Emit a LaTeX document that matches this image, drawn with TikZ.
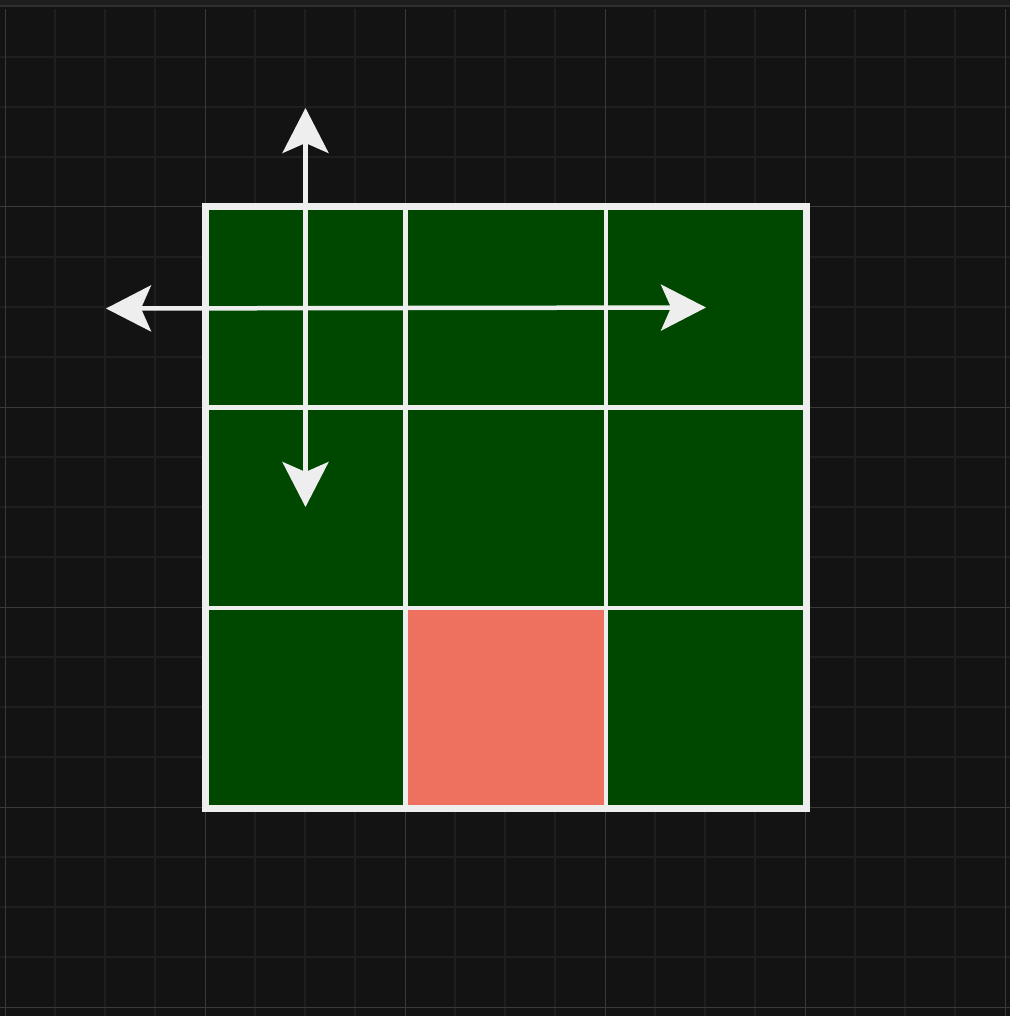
\documentclass[tikz,border=0pt]{standalone}
\usetikzlibrary{arrows.meta}
\definecolor{bg}{HTML}{131313}
\definecolor{bar}{HTML}{1E1E1E}
\definecolor{barline}{HTML}{2E2E2E}
\definecolor{minorgrid}{HTML}{1F1F1F}
\definecolor{majorgrid}{HTML}{3A3A3A}
\definecolor{cellgreen}{HTML}{004800}
\definecolor{cellred}{HTML}{EE715F}
\definecolor{linewhite}{HTML}{EEEEEE}
\tikzset{
  minorline/.style={draw=minorgrid, line width=1.4pt},
  majorline/.style={draw=majorgrid, line width=1pt},
  cellbox/.style={draw=none, fill=cellgreen, minimum size=200pt, inner sep=0pt, outer sep=0pt},
  hotbox/.style={cellbox, fill=cellred},
  gridsep/.style={draw=linewhite, line width=4.5pt},
  frame/.style={draw=linewhite, line width=7pt},
  dirarrow/.style={draw=linewhite, line width=4.5pt,
    {Stealth[length=45pt, width=46pt, inset=10pt]}-{Stealth[length=45pt, width=46pt, inset=10pt]}}
}
\begin{document}
\begin{tikzpicture}[x=1pt, y=-1pt]
\useasboundingbox (0,0) rectangle (1010,1016);
\fill[bg] (0,0) rectangle (1010,1016);
% minor grid
\foreach \x in {55,105,155,255,305,355,455,505,555,655,705,755,855,905,955}
  \draw[minorline] (\x,9) -- (\x,1016);
\foreach \y in {57,107,157,257,307,357,457,507,557,657,707,757,857,907,957}
  \draw[minorline] (0,\y) -- (1010,\y);
% major grid
\foreach \x in {5,205,405,605,805,1005}
  \draw[majorline] (\x,9) -- (\x,1016);
\foreach \y in {207,407,607,807,1007}
  \draw[majorline] (0,\y) -- (1010,\y);
% top bar
\fill[bar] (0,0) rectangle (1010,6);
\draw[barline, line width=1.5pt] (0,6) -- (1010,6);
% cells
\foreach \r in {0,1,2}
  \foreach \c in {0,1,2}
    \node[cellbox, anchor=north west] (c\r\c) at (205+200.5*\c, 207+200.5*\r) {};
\node[hotbox, anchor=north west] (hot) at (405.5,608) {};
% separators
\draw[gridsep] (405.5,207) -- (405.5,808.5);
\draw[gridsep] (606,207) -- (606,808.5);
\draw[gridsep] (205,407.5) -- (806.5,407.5);
\draw[gridsep] (205,608) -- (806.5,608);
\draw[frame] (205,207) rectangle (806.5,808.5);
% arrows
\coordinate (up) at (305.5,108);
\coordinate (down) at (305.5,507);
\coordinate (left) at (106,308.5);
\coordinate (right) at (706,307.5);
\draw[dirarrow] (up) -- (down);
\draw[dirarrow] (left) -- (right);
\end{tikzpicture}
\end{document}
